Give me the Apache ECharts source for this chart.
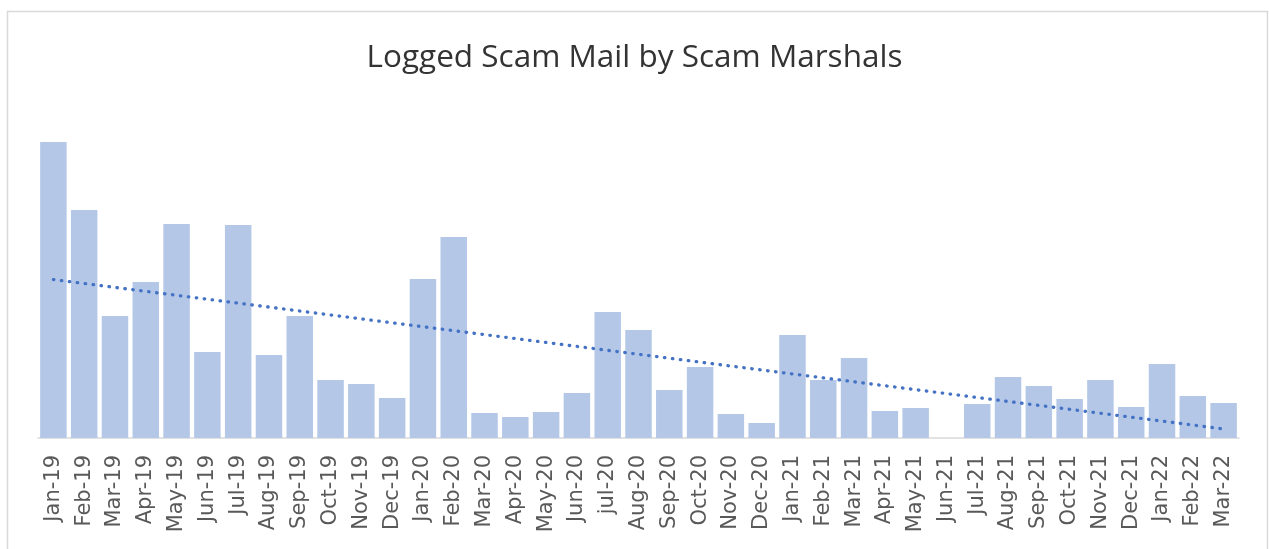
<!DOCTYPE html>
<html>
<head>
<meta charset="utf-8">
<script src="https://cdn.jsdelivr.net/npm/echarts@6/dist/echarts.min.js"></script>
<style>
  html, body { margin: 0; padding: 0; background: #fff; }
  #main { width: 1269px; height: 549px; }
</style>
</head>
<body>
<div id="main"></div>
<script>
// months on the x axis
var months = ['Jan-19','Feb-19','Mar-19','Apr-19','May-19','Jun-19','Jul-19','Aug-19','Sep-19','Oct-19','Nov-19','Dec-19',
  'Jan-20','Feb-20','Mar-20','Apr-20','May-20','Jun-20','jul-20','Aug-20','Sep-20','Oct-20','Nov-20','Dec-20',
  'Jan-21','Feb-21','Mar-21','Apr-21','May-21','Jun-21','Jul-21','Aug-21','Sep-21','Oct-21','Nov-21','Dec-21',
  'Jan-22','Feb-22','Mar-22'];
// logged scam mail per month (no scale shown)
var mailCount = [296,228,122,156,214,86,213,83,122,58,54,40,
  159,201,25,21,26,45,126,108,48,71,24,15,
  103,58,80,27,30,0,34,61,52,39,58,31,
  74,42,35];

// linear trendline like excel
function trendLine(vals){
    var n = vals.length, sx = 0, sy = 0, sxy = 0, sxx = 0;
    for (var i = 0; i < n; i++) {
        sx += i; sy += vals[i]; sxy += i * vals[i]; sxx += i * i;
    }
    var b = (n * sxy - sx * sy) / (n * sxx - sx * sx);
    var a = (sy - b * sx) / n;
    var out = [];
    for (var j = 0; j < n; j++) out.push(+(a + b * j).toFixed(2));
    return out;
}

var myChart = echarts.init(document.getElementById('main'));
var option = {
    animation: false,
    title: {
        text: 'Logged Scam Mail by Scam Marshals',
        left: 'center',
        top: 37,
        textStyle: {
            fontFamily: 'Open Sans',
            fontSize: 31.5,
            fontWeight: 'normal',
            color: '#333333'
        }
    },
    graphic: [{
        type: 'rect',
        shape: { x: 7.5, y: 11.5, width: 1260, height: 600 },
        style: { fill: 'none', stroke: '#d9d9d9', lineWidth: 1.5 },
        silent: true
    }],
    grid: { left: 38, right: 30, top: 130, bottom: 111 },
    xAxis: {
        type: 'category',
        data: months,
        axisLine: { lineStyle: { color: '#d9d9d9', width: 1.5 } },
        axisTick: { show: false },
        axisLabel: {
            rotate: 90,
            interval: 0,
            margin: 17,
            fontFamily: 'DejaVu Sans',
            fontSize: 21,
            color: '#595959'
        }
    },
    yAxis: {
        type: 'value',
        min: 0,
        max: 308,
        show: false,
        splitLine: { show: false }
    },
    series: [
        {
            name: 'Logged',
            type: 'bar',
            data: mailCount,
            barCategoryGap: '14%',
            itemStyle: { color: '#b4c7e7' }
        },
        {
            name: 'Trend',
            type: 'line',
            data: trendLine(mailCount),
            symbol: 'none',
            lineStyle: {
                color: '#4472c4',
                width: 3.3,
                type: [0.5, 7.5],
                cap: 'round'
            }
        }
    ]
};
myChart.setOption(option);
</script>
</body>
</html>
